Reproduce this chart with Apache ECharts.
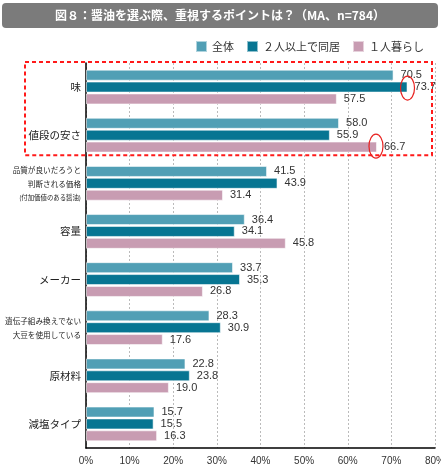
<!DOCTYPE html>
<html>
<head>
<meta charset="utf-8">
<script src="https://cdn.jsdelivr.net/npm/echarts@6/dist/echarts.min.js"></script>
<style>
html,body{margin:0;padding:0;background:#fff;}
#main{width:441px;height:471px;}
</style>
</head>
<body>
<div id="main"></div>
<script>
// 項目
var categories = ['味', '値段の安さ', '品質', '容量', 'メーカー', '遺伝子', '原材料', '減塩タイプ'];
var seriesNames = ['全体', '２人以上で同居', '１人暮らし'];
// 値（%）
var allData = [70.5, 58.0, 41.5, 36.4, 33.7, 28.3, 22.8, 15.7];
var groupData = [73.7, 55.9, 43.9, 34.1, 35.3, 30.9, 23.8, 15.5];
var singleData = [57.5, 66.7, 31.4, 45.8, 26.8, 17.6, 19.0, 16.3];
var colors = ['#519fb5', '#077592', '#c89cb2'];
var font = '"Noto Sans CJK JP", sans-serif';

var chart = echarts.init(document.getElementById('main'));

// y軸ラベル
function catLabel(v) {
  if (v == '品質') return '{s|品質が良いだろうと}\n{s|判断される価格}\n{xs|(付加価値のある醤油)}';
  if (v == '遺伝子') return '{s|遺伝子組み換えでない}\n{s|大豆を使用している}';
  return '{m|' + v + '}';
}

function makeSeries(name, data, i) {
  return {
    name: name,
    type: 'bar',
    data: data,
    barWidth: 11,
    barGap: '8%',
    itemStyle: {color: colors[i], borderColor: 'rgba(255,255,255,0.55)', borderWidth: 1},
    label: {
      show: true,
      position: 'right',
      distance: 7,
      color: '#333',
      fontSize: 11,
      fontFamily: 'Arial, sans-serif',
      formatter: function(p){ return p.value.toFixed(1); }
    }
  };
}

var option = {
  backgroundColor: '#fff',
  animation: false,
  textStyle: {fontFamily: font},
  legend: {
    right: 12,
    top: 35,
    itemWidth: 11,
    itemHeight: 11,
    itemGap: 12,
    icon: 'rect',
    textStyle: {fontSize: 11, color: '#333', fontFamily: font}
  },
  grid: {left: 86, right: 6, top: 63, bottom: 23, containLabel: false, outerBoundsMode: 'none'},
  xAxis: {
    type: 'value',
    min: 0,
    max: 80,
    interval: 10,
    axisLine: {show: true, lineStyle: {color: '#000', width: 1.5}},
    axisTick: {show: false},
    axisLabel: {formatter: '{value}%', fontSize: 10, color: '#333', margin: 8, fontFamily: 'Arial, sans-serif'},
    splitLine: {show: true, lineStyle: {color: '#bbb', type: [2, 2]}}
  },
  yAxis: {
    type: 'category',
    data: categories,
    inverse: true,
    axisLine: {show: true, lineStyle: {color: '#000', width: 1.5}},
    axisTick: {show: false},
    axisLabel: {
      margin: 5,
      formatter: catLabel,
      rich: {
        m: {fontSize: 10.5, color: '#222', fontFamily: font},
        s: {fontSize: 7.6, color: '#222', lineHeight: 14, fontFamily: font},
        xs: {fontSize: 6.4, color: '#222', lineHeight: 12, fontFamily: font}
      }
    }
  },
  series: [
    makeSeries(seriesNames[0], allData, 0),
    makeSeries(seriesNames[1], groupData, 1),
    makeSeries(seriesNames[2], singleData, 2)
  ],
  graphic: [{
    id: 'titleBg',
    type: 'rect',
    shape: {x: 2, y: 3, width: 436, height: 25, r: 4},
    style: {fill: '#7b7b7b'}
  }, {
    id: 'titleText',
    type: 'text',
    x: 220, y: 15.5,
    style: {
      text: '図８：醤油を選ぶ際、重視するポイントは？（MA、n=784）',
      fill: '#fff', fontSize: 12, fontWeight: 'bold', fontFamily: font,
      align: 'center', verticalAlign: 'middle'
    }
  }]
};
chart.setOption(option);

// 強調の枠と丸
var p0 = chart.convertToPixel({gridIndex: 0}, [0, 0]);
var p1 = chart.convertToPixel({gridIndex: 0}, [0, 1]);
var band = p1[1] - p0[1];
var e1 = chart.convertToPixel({gridIndex: 0}, [groupData[0], 0]);
var e2 = chart.convertToPixel({gridIndex: 0}, [singleData[1], 1]);
chart.setOption({
  graphic: [{
    id: 'box',
    type: 'rect',
    shape: {x: 25, y: p0[1] - band / 2 - 1, width: 407, height: band * 2 - 3},
    style: {fill: null, stroke: '#ff1a1a', lineWidth: 2, lineDash: [4, 3]},
    z: 100
  }, {
    id: 'circle1',
    type: 'ellipse',
    shape: {cx: e1[0], cy: e1[1] + 1, rx: 7, ry: 12},
    style: {fill: null, stroke: '#e8211f', lineWidth: 1.2},
    z: 100
  }, {
    id: 'circle2',
    type: 'ellipse',
    shape: {cx: e2[0] - 1, cy: e2[1] + 11, rx: 7, ry: 12},
    style: {fill: null, stroke: '#e8211f', lineWidth: 1.2},
    z: 100
  }]
});
</script>
</body>
</html>
